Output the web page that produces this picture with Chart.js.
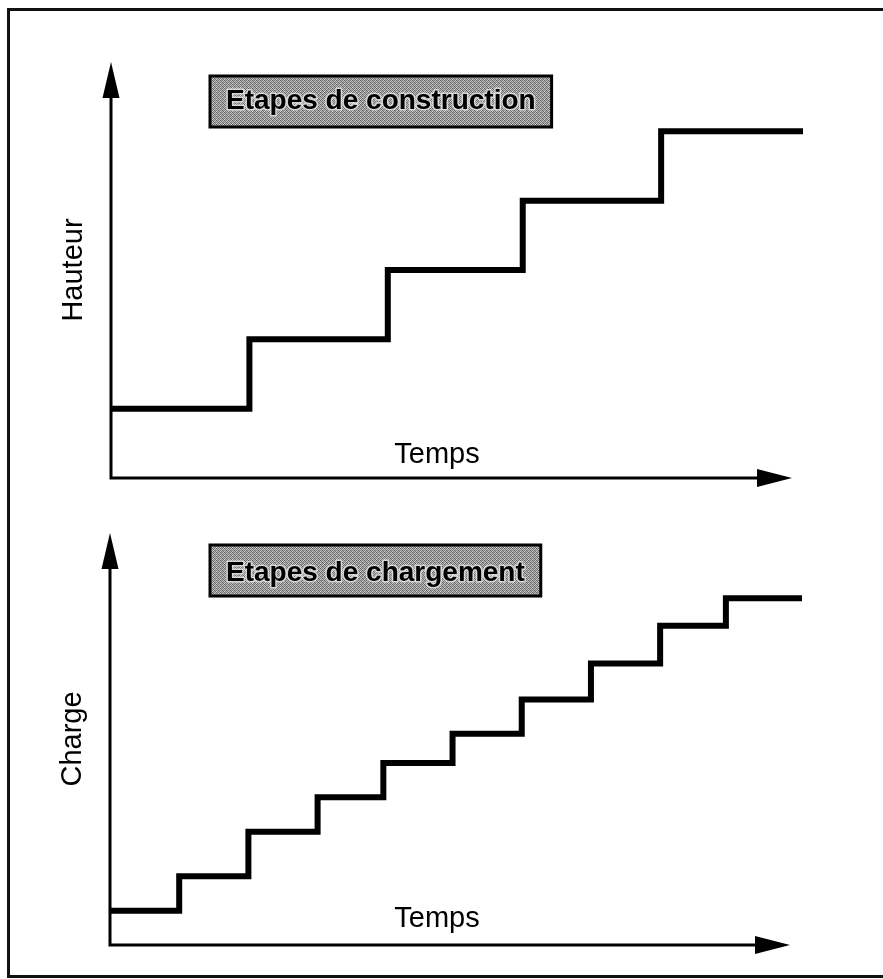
<!DOCTYPE html>
<html>
<head>
<meta charset="utf-8">
<script src="https://cdn.jsdelivr.net/npm/chart.js"></script>
<style>
  body { margin: 0; background: #fff; }
  #page { position: relative; width: 883px; height: 979px; overflow: hidden; }
  #frame { position: absolute; left: 7px; top: 8px; right: -10px; height: 970px; border: 3px solid #111; box-sizing: border-box; }
  canvas { position: absolute; left: 0; }
</style>
</head>
<body>
<div id="page">
  <div id="frame"></div>
  <canvas id="Construction" width="883" height="500" style="top:0"></canvas>
  <canvas id="Chargement" width="883" height="479" style="top:500px"></canvas>
</div>
<script>
// construction stages (top)
const constructionTimes = [0, 2, 4, 5.95, 7.95, 10];
const constructionHeights = [1, 2, 3, 4, 5, 5];
// loading stages (bottom)
const loadTimes = [0, 1, 2, 3, 3.95, 4.95, 5.95, 6.95, 7.95, 8.9, 10];
const loadCharges = [1, 2, 3.3, 4.3, 5.3, 6.15, 7.15, 8.2, 9.3, 10.1, 10.1];

const xLabel = "Temps";
const FONT = "'Liberation Sans', Arial, Helvetica, sans-serif";

Chart.defaults.font.family = FONT;
Chart.defaults.color = "#000";

// speckled grey fill for the label boxes
function greyPattern(ctx) {
    const levels = [
        [95, 175, 120, 195],
        [185, 105, 205, 130],
        [130, 200, 90, 170],
        [210, 120, 180, 110]
    ];
    const c = document.createElement("canvas");
    c.width = 4; c.height = 4;
    const g = c.getContext("2d");
    for (let y = 0; y < 4; y++) {
        for (let x = 0; x < 4; x++) {
            const v = levels[y][x];
            g.fillStyle = `rgb(${v},${v},${v})`;
            g.fillRect(x, y, 1, 1);
        }
    }
    return ctx.createPattern(c, "repeat");
}

// axes with arrow heads, the "Temps" label and the grey title box
const arrowAxes = {
    id: "arrowAxes",
    afterDatasetsDraw(chart, args, opts) {
        const { ctx, chartArea: a } = chart;
        const tipX = a.right - opts.tipInset;
        ctx.save();
        ctx.strokeStyle = "#000";
        ctx.fillStyle = "#000";
        ctx.lineWidth = 3;
        ctx.beginPath();
        ctx.moveTo(a.left, a.top + 30);
        ctx.lineTo(a.left, a.bottom);
        ctx.lineTo(tipX - 30, a.bottom);
        ctx.stroke();

        // y arrow
        ctx.beginPath();
        ctx.moveTo(a.left, a.top);
        ctx.lineTo(a.left - 8.5, a.top + 36);
        ctx.lineTo(a.left + 8.5, a.top + 36);
        ctx.closePath();
        ctx.fill();
        // x arrow
        ctx.beginPath();
        ctx.moveTo(tipX, a.bottom);
        ctx.lineTo(tipX - 35, a.bottom - 9);
        ctx.lineTo(tipX - 35, a.bottom + 9);
        ctx.closePath();
        ctx.fill();

        // Temps
        ctx.font = "29px " + FONT;
        ctx.textAlign = "center";
        ctx.textBaseline = "alphabetic";
        ctx.fillText(xLabel, a.left + opts.xLabelDx, a.bottom - opts.xLabelDy);

        // title box
        ctx.font = "bold 28px " + FONT;
        const w = ctx.measureText(opts.boxText).width + 32;
        const bx = a.left + opts.boxDx, by = a.top + opts.boxDy, bh = 51;
        ctx.fillStyle = greyPattern(ctx);
        ctx.fillRect(bx, by, w, bh);
        ctx.lineWidth = 3;
        ctx.strokeRect(bx, by, w, bh);
        ctx.textAlign = "left";
        ctx.lineJoin = "round";
        ctx.strokeStyle = "rgba(235,235,235,0.75)";
        ctx.lineWidth = 3;
        ctx.strokeText(opts.boxText, bx + 16, by + opts.boxBase);
        ctx.fillStyle = "#000";
        ctx.fillText(opts.boxText, bx + 16, by + opts.boxBase);
        ctx.restore();
    }
};

function stepChart(id, times, values, yTitle, yMax, pad, decor) {
    return new Chart(document.getElementById(id), {
        type: "line",
        data: {
            datasets: [{
                data: times.map((t, i) => ({ x: t, y: values[i] })),
                stepped: true,
                borderColor: "#000",
                borderWidth: 6,
                pointRadius: 0,
                fill: false
            }]
        },
        options: {
            responsive: false,
            animation: false,
            events: [],
            layout: { padding: pad },
            plugins: {
                legend: { display: false },
                tooltip: { enabled: false },
                arrowAxes: decor
            },
            scales: {
                x: { type: "linear", min: 0, max: 10, display: false },
                y: {
                    min: 0,
                    max: yMax,
                    grid: { display: false },
                    border: { display: false },
                    ticks: { display: false },
                    title: {
                        display: true,
                        text: yTitle,
                        color: "#000",
                        font: { size: 29 },
                        padding: { top: 8, bottom: 12 }
                    }
                }
            }
        },
        plugins: [arrowAxes]
    });
}

stepChart("Construction", constructionTimes, constructionHeights, "Hauteur", 6,
    { left: 48.2, right: 80, top: 62, bottom: 22 },
    { tipInset: 11, xLabelDx: 326, xLabelDy: 15, boxDx: 99, boxDy: 14, boxBase: 33, boxText: "Etapes de construction" });

stepChart("Chargement", loadTimes, loadCharges, "Charge", 12,
    { left: 47.2, right: 81, top: 33, bottom: 34 },
    { tipInset: 12, xLabelDx: 327, xLabelDy: 18, boxDx: 100, boxDy: 12, boxBase: 36, boxText: "Etapes de chargement" });
</script>
</body>
</html>
